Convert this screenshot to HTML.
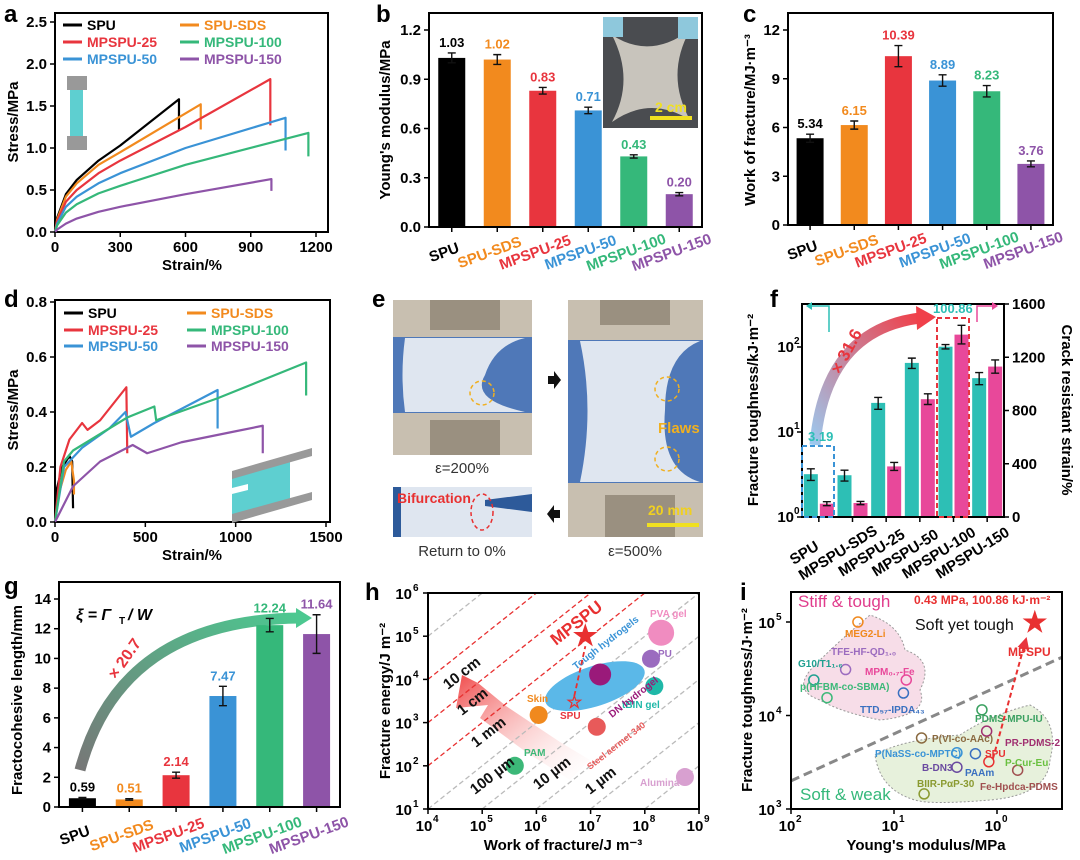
<!DOCTYPE html>
<html><head><meta charset="utf-8"><style>
html,body{margin:0;padding:0;background:#fff;}
svg{display:block;font-family:"Liberation Sans",sans-serif;font-weight:bold;}
</style></head><body>
<svg id="fig" width="1080" height="860" viewBox="0 0 1080 860" xmlns="http://www.w3.org/2000/svg">
<defs>
<linearGradient id="gf" x1="0" y1="1" x2="1" y2="0"><stop offset="0" stop-color="#9cc8ee"/><stop offset="1" stop-color="#f0404a"/></linearGradient>
<linearGradient id="gg" x1="0" y1="1" x2="1" y2="0"><stop offset="0" stop-color="#777"/><stop offset="1" stop-color="#4cc890"/></linearGradient>
<linearGradient id="gh" x1="1" y1="1" x2="0" y2="0"><stop offset="0" stop-color="#fff" stop-opacity="0.1"/><stop offset="1" stop-color="#f04a4a"/></linearGradient>
<marker id="ah" markerWidth="6" markerHeight="6" refX="3" refY="3" orient="auto"><path d="M0,0L6,3L0,6z" fill="#e8353e"/></marker>
</defs>
<text x="4" y="22" font-size="24">a</text>
<text x="376" y="22" font-size="24">b</text>
<text x="743" y="22" font-size="24">c</text>
<text x="4" y="307" font-size="24">d</text>
<text x="372" y="307" font-size="24">e</text>
<text x="770" y="307" font-size="24">f</text>
<text x="4" y="594" font-size="24">g</text>
<text x="365" y="600" font-size="24">h</text>
<text x="740" y="600" font-size="24">i</text>

<g>
<rect x="393" y="300" width="139" height="155" fill="#c8bfb0"/>
<rect x="393" y="337" width="139" height="76" fill="#4f78b8"/>
<path d="M405,338 Q400,375 405,412 L525,412 Q470,400 485,375 Q495,345 525,338 Z" fill="#dfe6f0"/>
<rect x="430" y="300" width="70" height="30" fill="#9a9080"/>
<rect x="430" y="420" width="70" height="35" fill="#9a9080"/>
<circle cx="482" cy="393" r="12" fill="none" stroke="#f0b020" stroke-width="1.5" stroke-dasharray="4,3"/>
</g>
<g>
<rect x="393" y="487" width="139" height="50" fill="#dfe6f0"/>
<rect x="393" y="487" width="8" height="50" fill="#2d5a9a"/>
<path d="M485,500 L532,494 L532,512 L485,506Z" fill="#2d5a9a"/>
<ellipse cx="482" cy="512" rx="11" ry="18" fill="none" stroke="#e83030" stroke-width="1.5" stroke-dasharray="4,3"/>
<text x="397" y="503" font-size="14" fill="#e83030">Bifurcation</text>
</g>
<g>
<rect x="568" y="300" width="135" height="237" fill="#c8bfb0"/>
<rect x="568" y="340" width="135" height="143" fill="#4f78b8"/>
<path d="M580,341 Q595,410 580,482 L700,482 Q660,470 665,410 Q665,355 700,341 Z" fill="#dfe6f0"/>
<rect x="600" y="300" width="70" height="25" fill="#9a9080"/>
<rect x="605" y="495" width="70" height="42" fill="#9a9080"/>
<circle cx="667" cy="389" r="12" fill="none" stroke="#f0b020" stroke-width="1.5" stroke-dasharray="4,3"/>
<circle cx="667" cy="459" r="12" fill="none" stroke="#f0b020" stroke-width="1.5" stroke-dasharray="4,3"/>
<text x="658" y="433" font-size="15" fill="#f0b020">Flaws</text>
<text x="648" y="515" font-size="14" fill="#f0d020">20 mm</text>
<rect x="647" y="523" width="52" height="4" fill="#f0e020"/>
</g>
<path d="M548,376h6v-5l7,9l-7,9v-5h-6z" fill="#111"/>
<path d="M560,510h-6v-5l-7,9l7,9v-5h6z" fill="#111"/>
<text x="462" y="473" font-size="15" text-anchor="middle" fill="#333" font-weight="normal">ε=200%</text>
<text x="462" y="556" font-size="15" text-anchor="middle" fill="#333" font-weight="normal">Return to 0%</text>
<text x="635" y="556" font-size="15" text-anchor="middle" fill="#333" font-weight="normal">ε=500%</text>
</svg>
<script>
const NS='http://www.w3.org/2000/svg';
const svg=document.getElementById('fig');
function add(p,tag,at){const e=document.createElementNS(NS,tag);for(const k in at)e.setAttribute(k,at[k]);p.appendChild(e);return e;}
function tx(p,x,y,s,at){const e=add(p,'text',Object.assign({x:x,y:y},at||{}));e.textContent=s;return e;}

const names=['SPU','SPU-SDS','MPSPU-25','MPSPU-50','MPSPU-100','MPSPU-150'];
const cols=['#000000','#f28a1e','#e8353e','#3a93d6','#35b87a','#8e54a8'];

/* panel a */
const aStrain=[[0,10,50,100,200,300,570,570],[0,10,50,100,200,300,670,670],[0,10,50,100,200,300,600,990,990],[0,10,50,100,200,300,600,1060,1060],[0,10,50,100,200,300,600,1165,1165],[0,10,50,100,200,300,600,995,995]];
const aStress=[[0,0.17,0.45,0.62,0.85,1.03,1.58,1.22],[0,0.15,0.42,0.58,0.80,0.95,1.52,1.22],[0,0.13,0.36,0.50,0.70,0.85,1.25,1.82,1.27],[0,0.10,0.30,0.42,0.58,0.70,1.00,1.36,0.97],[0,0.08,0.23,0.33,0.46,0.55,0.80,1.18,0.90],[0,0.03,0.10,0.16,0.24,0.30,0.45,0.63,0.49]];
const aXTicks=[0,300,600,900,1200];
const aYTicks=[0,0.5,1.0,1.5,2.0,2.5];
/* panel b */
const bVals=[1.03,1.02,0.83,0.71,0.43,0.20];
const bErr=[0.03,0.03,0.02,0.02,0.01,0.01];
const bTicks=[0,0.3,0.6,0.9,1.2];
/* panel c */
const cVals=[5.34,6.15,10.39,8.89,8.23,3.76];
const cErr=[0.25,0.25,0.65,0.35,0.35,0.18];
const cTicks=[0,3,6,9,12];
/* panel d */
const dStrain=[[0,10,40,80,95,100],[0,20,60,90,105,105],[0,30,80,150,180,250,395,400],[0,50,150,300,390,420,550,900,900],[0,50,100,300,400,550,560,900,1390,1390],[0,100,250,430,510,700,1000,1150,1150]];
const dStress=[[0,0.12,0.20,0.24,0.22,0.05],[0,0.10,0.19,0.22,0.15,0.10],[0,0.20,0.30,0.36,0.335,0.37,0.49,0.25],[0,0.20,0.27,0.34,0.40,0.31,0.36,0.48,0.34],[0,0.22,0.26,0.34,0.38,0.42,0.37,0.45,0.58,0.46],[0,0.13,0.22,0.28,0.25,0.29,0.33,0.35,0.25]];
const dXTicks=[0,500,1000,1500];
const dYTicks=[0,0.2,0.4,0.6,0.8];
/* panel f */
const fTough=[3.19,3.1,22,65,100.86,43];
const fToughErr=[0.5,0.45,3.5,9,6,7];
const fStrain=[100,105,380,885,1370,1130];
const fStrainErr=[15,12,30,40,70,50];
const fRightTicks=[0,400,800,1200,1600];
/* panel g */
const gVals=[0.59,0.51,2.14,7.47,12.24,11.64];
const gErr=[0.05,0.05,0.2,0.65,0.45,1.3];
const gTicks=[0,2,4,6,8,10,12,14];
/* panel h */
const hNames=['PVA gel','PU','DN hydrogel','tBIN gel','Skin','Steel aermet 340','PAM','Alumina'];
const hW=[2e8,1.3e8,1.5e7,1.5e8,1.1e6,1.3e7,4e5,5.5e8];
const hG=[1.2e5,3e4,1.3e4,7e3,1.5e3,800,100,55];
const hColors=['#f08cc0','#9b6bbf','#9a1a7a','#1fb8a8','#f0891e','#e85a5a','#3cb878','#d8a0d0'];
const hLengths=[10,1,0.1,0.01,1e-3,1e-4,1e-5,1e-6,1e-7];
const hLenLabels=['10 cm','1 cm','1 mm','100 µm','10 µm','1 µm'];
/* panel i */
const iNames=['MEG2-Li','G10/T1','TFE-HF-QD','MPM-Fe','TTD-IPDA','p(HFBM-co-SBMA)','PDMS-MPU-IU','PR-PDMS-2','P(VI-co-AAc)','P(NaSS-co-MPTC)','PAAm','B-DN3','Fe-Hpdca-PDMS','BIIR-PαP-30','SPU'];
const iE=[22.4,60,29.5,7.6,8.1,44.7,1.4,1.26,5.4,2.45,1.62,2.45,0.63,5.1,1.2];
const iG=[1.0e5,2.4e4,3.1e4,2.4e4,1.74e4,1.55e4,1.15e4,6.8e3,5.75e3,4.0e3,3.9e3,2.8e3,2.6e3,1.45e3,3.2e3];
const iMPSPU=[0.43,100860];

function frame(x0,y0,x1,y1,nm){const r=add(svg,'rect',{x:x0,y:y0,width:x1-x0,height:y1-y0,fill:'none',stroke:'#000','stroke-width':2});

}
function yTicks(ticks,sy,x0,fmt,nm,right){ticks.forEach(t=>{const y=sy(t);
add(svg,'line',{x1:x0,x2:right?x0+5:x0-5,y1:y,y2:y,stroke:'#000','stroke-width':1.5});
const e=tx(svg,right?x0+8:x0-8,y+5,fmt(t),{'font-size':15,'text-anchor':right?'start':'end'});

});}
function xTicks(ticks,sx,y0,fmt,nm){ticks.forEach(t=>{const x=sx(t);
add(svg,'line',{x1:x,x2:x,y1:y0,y2:y0+5,stroke:'#000','stroke-width':1.5});
const e=tx(svg,x,y0+20,fmt(t),{'font-size':15,'text-anchor':'middle'});

});}
function yTitle(x,y,s,nm,size){const e=tx(svg,x,y,s,{'font-size':size||15,'text-anchor':'middle',transform:`rotate(-90 ${x} ${y})`});

return e;}
function cat(x,y,s,c,nm,rot){const e=tx(svg,x,y,s,{'font-size':15,'text-anchor':'middle',fill:c,transform:`rotate(${rot} ${x} ${y})`});

}
function line(pts,c,nm,w){const p=add(svg,'polyline',{points:pts.map(q=>q.join(',')).join(' '),fill:'none',stroke:c,'stroke-width':w||2.2,'stroke-linejoin':'round'});

}
function legend(x,y,s,c){add(svg,'line',{x1:x,x2:x+19,y1:y-5,y2:y-5,stroke:c,'stroke-width':3});
const e=tx(svg,x+24,y,s,{'font-size':14,fill:c});

}
function errbar(x,y1,y2){add(svg,'path',{d:`M${x},${y1}V${y2}M${x-4},${y1}H${x+4}M${x-4},${y2}H${x+4}`,stroke:'#111','stroke-width':1.4,fill:'none'});}
function barChart(x0,x1,y0,y1,vmax,vals,errs,ticks,fmt,nm,lblY){
 const sy=v=>y0-(v/vmax)*(y0-y1);const bw=(x1-x0)/6;
 vals.forEach((v,i)=>{const cx=x0+bw*(i+0.5);
  const b=add(svg,'rect',{x:cx-13.5,y:sy(v),width:27,height:y0-sy(v),fill:cols[i]});
  
  
  errbar(cx,sy(v+errs[i]),sy(v-errs[i]));
  const t=tx(svg,cx,sy(v+errs[i])-6,v.toFixed(2),{'font-size':13,'text-anchor':'middle',fill:cols[i]});
  
  
  add(svg,'line',{x1:cx,x2:cx,y1:y0,y2:y0+5,stroke:'#000','stroke-width':1.5});
  cat(cx-6,lblY,names[i],cols[i],'category-label',-20);
 });
 frame(x0,y1-17,x1,y0,nm);
 yTicks(ticks,sy,x0,fmt,'y-tick-label');
}

/* panel a */
{const sx=v=>55+v/1200*261, sy=v=>232-v*84;
frame(55,13,328,232,'plot-frame-a');
aStrain.forEach((s,i)=>line(s.map((v,j)=>[sx(v),sy(aStress[i][j])]),cols[i],'curve-'+names[i].toLowerCase()));
xTicks(aXTicks,sx,232,t=>t,'x-tick-label');yTicks(aYTicks,sy,55,t=>t.toFixed(1),'y-tick-label');
const xt=tx(svg,192,270,'Strain/%',{'font-size':15,'text-anchor':'middle'});


yTitle(18,122,'Stress/MPa','y-axis-title');
[[63,30],[63,47],[63,64],[180,30],[180,47],[180,64]].forEach((p,k)=>{const idx=[0,2,3,1,4,5][k];legend(p[0],p[1],names[idx],cols[idx]);});
add(svg,'rect',{x:70,y:82,width:13,height:55,fill:'#5ecfd0'});
add(svg,'rect',{x:67,y:76,width:20,height:14,fill:'#999'});add(svg,'rect',{x:67,y:136,width:20,height:14,fill:'#999'});}

/* panel b */
barChart(429,702,227,30,1.2,bVals,bErr,bTicks,t=>t.toFixed(1),'plot-frame-b',257);
yTitle(390,120,"Young's modulus/MPa",'y-axis-title');
add(svg,'rect',{x:603,y:17,width:95,height:111,fill:'#4a4c50'});
add(svg,'path',{d:'M612,35 Q650,60 690,30 Q665,75 690,120 Q650,95 612,122 Q635,80 612,35Z',fill:'#c8c4bc'});
add(svg,'rect',{x:603,y:17,width:20,height:20,fill:'#8ec8dc'});add(svg,'rect',{x:678,y:17,width:20,height:22,fill:'#8ec8dc'});
tx(svg,655,112,'2 cm',{'font-size':14,fill:'#f0e020'});add(svg,'rect',{x:650,y:116,width:42,height:4,fill:'#f0e020'});

/* panel c */
barChart(788,1053,225,30,12,cVals,cErr,cTicks,t=>t,'plot-frame-c',255);
yTitle(755,120,'Work of fracture/MJ·m⁻³','y-axis-title');

/* panel d */
{const sx=v=>55+v/1500*271, sy=v=>522-v/0.8*220;
frame(55,300,330,522,'plot-frame-d');
dStrain.forEach((s,i)=>line(s.map((v,j)=>[sx(v),sy(dStress[i][j])]),cols[i],'curve-'+names[i].toLowerCase()));
xTicks(dXTicks,sx,522,t=>t,'x-tick-label');yTicks(dYTicks,sy,55,t=>t.toFixed(1),'y-tick-label');
const xt=tx(svg,192,560,'Strain/%',{'font-size':15,'text-anchor':'middle'});


yTitle(18,410,'Stress/MPa','y-axis-title');
[[64,318],[64,335],[64,351],[187,318],[187,335],[187,351]].forEach((p,k)=>{const idx=[0,2,3,1,4,5][k];legend(p[0],p[1],names[idx],cols[idx]);});
add(svg,'path',{d:'M232,478 L290,462 L290,500 L232,516 Z',fill:'#5ecfd0'});
add(svg,'path',{d:'M232,471 L312,448 L312,456 L232,479 Z',fill:'#999'});
add(svg,'path',{d:'M232,514 L312,492 L312,500 L232,523 Z',fill:'#999'});
add(svg,'path',{d:'M232,488 L248,484 L248,490 L232,494Z',fill:'#fff'});}

/* panel f */
{const x0=802,x1=1004,y0=517;const sy=v=>y0-Math.log10(v)*85;const sr=v=>y0-v/1600*213;const bw=(x1-x0)/6;
add(svg,'path',{d:'M815,445 Q825,330 920,318',fill:'none',stroke:'url(#gf)','stroke-width':11});
add(svg,'path',{d:'M916,306 L936,317 L917,330Z',fill:'#f0404a'});
const ml=tx(svg,840,375,'× 31.6',{'font-size':17,fill:'#e8353e',transform:'rotate(-62 840 375)'});


fTough.forEach((v,i)=>{const cx=x0+bw*(i+0.5);
 const b=add(svg,'rect',{x:cx-15,y:sy(v),width:14,height:y0-sy(v),fill:'#2dbfb5'});
 
 
 errbar(cx-8,sy(v+fToughErr[i]),sy(v-fToughErr[i]));
 const s=fStrain[i];const b2=add(svg,'rect',{x:cx+1,y:sr(s),width:14,height:y0-sr(s),fill:'#e8489a'});
 
 
 errbar(cx+8,sr(s+fStrainErr[i]),sr(s-fStrainErr[i]));
 add(svg,'line',{x1:cx,x2:cx,y1:y0,y2:y0+5,stroke:'#000','stroke-width':1.5});
 cat(cx-12,y0+40,names[i].replace('SPU-SDS','MPSPU-SDS'),'#000','category-label',-32);});
frame(x0,304,x1,y0,'plot-frame-f');
[0,1,2].forEach(k=>{const y=sy(Math.pow(10,k));add(svg,'line',{x1:x0,x2:x0-5,y1:y,y2:y,stroke:'#000','stroke-width':1.5});
 const e=tx(svg,x0-8,y+5,'10',{'font-size':15,'text-anchor':'end'});
 
 
 tx(svg,x0-8,y-3,String(k),{'font-size':10});});
yTicks(fRightTicks,sr,x1,t=>t,'right-tick-label',true);
yTitle(758,410,'Fracture toughness/kJ·m⁻²','y-axis-title');
const rt=tx(svg,1062,410,'Crack resistant strain/%',{'font-size':15,'text-anchor':'middle',transform:'rotate(90 1062 410)'});


add(svg,'rect',{x:x0,y:446,width:32,height:71,fill:'none',stroke:'#3a93d6','stroke-width':2,'stroke-dasharray':'5,3'});
add(svg,'rect',{x:937,y:318,width:32,height:199,fill:'none',stroke:'#e8353e','stroke-width':2,'stroke-dasharray':'5,3'});
tx(svg,808,441,'3.19',{'font-size':13,fill:'#2dbfb5'});tx(svg,933,313,'100.86',{'font-size':13,fill:'#2dbfb5'});
add(svg,'path',{d:'M829,332V306H812',stroke:'#2dbfb5','stroke-width':1.5,fill:'none'});add(svg,'path',{d:'M812,302L806,306L812,310Z',fill:'#2dbfb5'});
add(svg,'path',{d:'M977,322V306H992',stroke:'#e8489a','stroke-width':1.5,fill:'none'});add(svg,'path',{d:'M992,302L998,306L992,310Z',fill:'#e8489a'});}

/* panel g */
add(svg,'path',{d:'M80,770 Q120,620 300,618',fill:'none',stroke:'url(#gg)','stroke-width':11});
add(svg,'path',{d:'M296,608 L312,618 L296,628Z',fill:'#4cc890'});
barChart(59,340,807,599,14,gVals,gErr,gTicks,t=>t,'plot-frame-g',840);
yTitle(22,700,'Fractocohesive length/mm','y-axis-title');
{const e=tx(svg,76,620,'ξ = Γ',{'font-size':16,'font-style':'italic'});


tx(svg,119,624,'T',{'font-size':10});tx(svg,128,620,'/ W',{'font-size':16,'font-style':'italic'});
const m=tx(svg,116,680,'× 20.7',{'font-size':16,fill:'#e8353e',transform:'rotate(-55 116 680)'});

}

/* panel h */
{const x0=428,x1=699,y0=809,y1=593;const sx=w=>x0+(Math.log10(w)-4)*54.2, sy=g=>y0-(Math.log10(g)-1)*43.2;
const ar=add(svg,'path',{d:'M570,780 L526,752 L480,718 L488,705 L456,708 L462,675 L478,683 L506,706 L560,742 L590,760 Z',fill:'url(#gh)'});


hLengths.forEach((L,k)=>{const wa=1e4,wb=1e9;
 const ga=Math.max(10,Math.min(1e6,wa*L)),gb=Math.max(10,Math.min(1e6,wb*L));
 const l=add(svg,'line',{x1:sx(ga/L),y1:sy(ga),x2:sx(gb/L),y2:sy(gb),stroke:(L>=0.01&&L<=1)?'#e83030':'#bbb','stroke-width':1.3,'stroke-dasharray':'5,3'});
 
 });
const eb=add(svg,'ellipse',{cx:sx(1.2e7),cy:sy(7e3),rx:52,ry:20,fill:'#5bb8e8',transform:`rotate(-18 ${sx(1.2e7)} ${sy(7e3)})`});


hNames.forEach((n,i)=>{const c=add(svg,'circle',{cx:sx(hW[i]),cy:sy(hG[i]),r:n==='PVA gel'?13:(n==='DN hydrogel'?11:9),fill:hColors[i]});
 
 });
[['PVA gel',650,617,'#f08cc0'],['PU',658,657,'#9b6bbf'],['Skin',527,702,'#f0891e'],['tBIN gel',622,708,'#1fb8a8'],['PAM',524,756,'#3cb878'],['Alumina',640,786,'#d8a0d0'],['SPU',560,719,'#e8353e']].forEach(a=>{const e=tx(svg,a[1],a[2],a[0],{'font-size':10,fill:a[3]});
 
 });
tx(svg,612,718,'DN hydrogel',{'font-size':10,fill:'#9a1a7a',transform:'rotate(-38 612 718)'});
tx(svg,576,670,'Tough hydrogels',{'font-size':10,fill:'#3a93d6',transform:'rotate(-38 576 670)'});
tx(svg,590,770,'Steel aermet 340',{'font-size':9,fill:'#e85a5a',transform:'rotate(-38 590 770)'});
const st=tx(svg,sx(8e6),sy(1e5)+9,'★',{'font-size':28,'text-anchor':'middle',fill:'#e83030'});


tx(svg,sx(5e6),sy(3e3)+6,'☆',{'font-size':18,'text-anchor':'middle',fill:'#e83030'});
add(svg,'line',{x1:sx(5e6),y1:sy(3e3)-6,x2:sx(8e6),y2:sy(1e5)+10,stroke:'#e83030','stroke-width':1.8,'stroke-dasharray':'5,3'});
tx(svg,556,646,'MPSPU',{'font-size':17,fill:'#e83030',transform:'rotate(-38 556 646)'});
[[448,690],[462,716],[476,748],[475,795],[538,790],[590,795]].forEach((p,k)=>{const e=tx(svg,p[0],p[1],hLenLabels[k],{'font-size':15,fill:'#111',transform:`rotate(-38 ${p[0]} ${p[1]})`});
 
 });
frame(x0,y1,x1,y0,'plot-frame-h');
[4,5,6,7,8,9].forEach(k=>{const x=sx(Math.pow(10,k));add(svg,'line',{x1:x,x2:x,y1:y0,y2:y0+5,stroke:'#000','stroke-width':1.5});
 const e=tx(svg,x-4,y0+22,'10',{'font-size':15,'text-anchor':'middle'});
 
 
 tx(svg,x+5,y0+13,String(k),{'font-size':10});});
[1,2,3,4,5,6].forEach(k=>{const y=sy(Math.pow(10,k));add(svg,'line',{x1:x0,x2:x0-5,y1:y,y2:y,stroke:'#000','stroke-width':1.5});
 const e=tx(svg,x0-16,y+6,'10',{'font-size':15,'text-anchor':'end'});
 
 
 tx(svg,x0-15,y-2,String(k),{'font-size':10});});
const xt=tx(svg,563,850,'Work of fracture/J m⁻³',{'font-size':15,'text-anchor':'middle'});


yTitle(390,701,'Fracture energy/J m⁻²','y-axis-title');}

/* panel i */
{const x0=791,x1=1062,y0=809,y1=592;const sx=e=>x0+(2-Math.log10(e))*103, sy=g=>y0-(Math.log10(g)-3)*93.5;
add(svg,'path',{d:'M815,665 Q840,640 870,615 Q900,625 905,650 Q935,660 920,690 Q930,715 880,720 Q840,712 820,700 Q790,690 815,665Z',fill:'#f7dde8',stroke:'#999','stroke-width':1,'stroke-dasharray':'2,2'});
add(svg,'path',{d:'M875,755 Q900,740 960,735 Q990,715 1030,705 Q1060,720 1050,760 Q1048,795 990,800 Q930,805 915,800 Q880,790 875,755Z',fill:'#e7f1dc',stroke:'#999','stroke-width':1,'stroke-dasharray':'2,2'});
const dl=add(svg,'line',{x1:sx(100),y1:sy(2000),x2:x1,y2:sy(42000),stroke:'#888','stroke-width':3,'stroke-dasharray':'9,5'});


const iCols=['#f0891e','#1fa090','#9b6bbf','#e8489a','#3a70c0','#3cb878','#3aa060','#a03070','#8a6a40','#3a93d6','#3a70c0','#6a4aa0','#a05050','#8a9a30','#e83030'];
iNames.forEach((n,i)=>{const m=add(svg,'circle',{cx:sx(iE[i]),cy:sy(iG[i]),r:5,fill:'none',stroke:iCols[i],'stroke-width':1.5});
 
 });
[['MEG2-Li',845,637,'#f0891e'],['G10/T1₁.₆',798,667,'#1fa090'],['TFE-HF-QD₁.₀',831,655,'#9b6bbf'],['MPM₀.₇-Fe',865,675,'#e8489a'],['p(HFBM-co-SBMA)',800,690,'#3cb878'],['TTD₅₇-IPDA₄₃',860,713,'#3a70c0'],['PDMS-MPU-IU',975,722,'#3aa060'],['P(VI-co-AAc)',932,742,'#8a6a40'],['PR-PDMS-2',1005,746,'#a03070'],['P(NaSS-co-MPTC)',875,757,'#3a93d6'],['SPU',985,757,'#e83030'],['P-Cur-Eu',1005,766,'#6ac040'],['B-DN3',922,771,'#6a4aa0'],['PAAm',965,776,'#3a70c0'],['BIIR-PαP-30',917,787,'#8a9a30'],['Fe-Hpdca-PDMS',980,790,'#a05050']].forEach(a=>{const e=tx(svg,a[1],a[2],a[0],{'font-size':10,fill:a[3]});
 
 });
const ms=tx(svg,sx(iMPSPU[0]),sy(iMPSPU[1])+10,'★',{'font-size':28,'text-anchor':'middle',fill:'#e83030'});


add(svg,'line',{x1:sx(1.1),y1:sy(3400),x2:1025,y2:sy(60000),stroke:'#e83030','stroke-width':2,'stroke-dasharray':'5,3','marker-end':'url(#ah)'});
tx(svg,798,607,'Stiff & tough',{'font-size':17,fill:'#e03c8c','font-weight':'normal'});
tx(svg,800,800,'Soft & weak',{'font-size':17,fill:'#35b87a','font-weight':'normal'});
tx(svg,915,630,'Soft yet tough',{'font-size':16,fill:'#111','font-weight':'normal'});
tx(svg,914,604,'0.43 MPa, 100.86 kJ·m⁻²',{'font-size':12,fill:'#e83030'});
tx(svg,1008,656,'MPSPU',{'font-size':12,fill:'#e83030'});
frame(x0,y1,x1,y0,'plot-frame-i');
[2,1,0].forEach(k=>{const x=sx(Math.pow(10,k));add(svg,'line',{x1:x,x2:x,y1:y0,y2:y0+5,stroke:'#000','stroke-width':1.5});
 const e=tx(svg,x-4,y0+22,'10',{'font-size':15,'text-anchor':'middle'});
 
 
 tx(svg,x+5,y0+13,String(k),{'font-size':10});});
[3,4,5].forEach(k=>{const y=sy(Math.pow(10,k));add(svg,'line',{x1:x0,x2:x0-5,y1:y,y2:y,stroke:'#000','stroke-width':1.5});
 const e=tx(svg,x0-16,y+6,'10',{'font-size':15,'text-anchor':'end'});
 
 
 tx(svg,x0-15,y-2,String(k),{'font-size':10});});
const xt=tx(svg,926,850,"Young's modulus/MPa",{'font-size':15,'text-anchor':'middle'});


yTitle(752,700,'Fracture toughness/J·m⁻²','y-axis-title');}
</script>
</body></html>
